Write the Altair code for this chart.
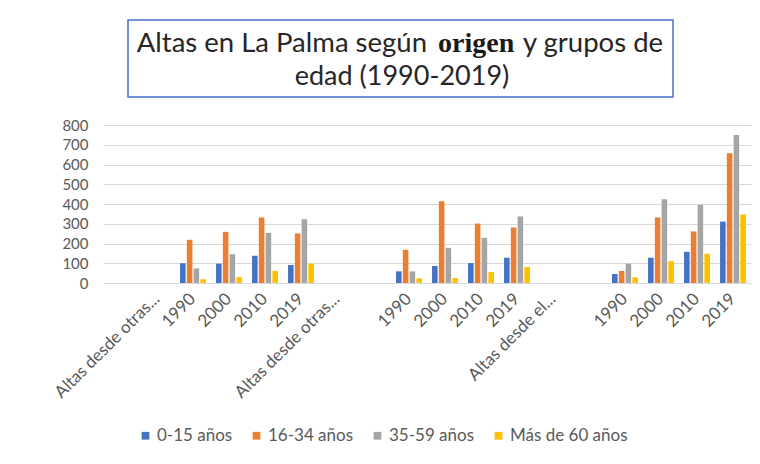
import altair as alt
import pandas as pd
import json

# Category slots along the x axis (18 slots, some empty)
slot_labels = ["", "Altas desde otras...", "1990", "2000", "2010", "2019",
               "Altas desde otras...", "", "1990", "2000", "2010", "2019",
               "Altas desde el...", "", "1990", "2000", "2010", "2019"]
data_slots = [2, 3, 4, 5, 8, 9, 10, 11, 14, 15, 16, 17]

series = ["0-15 años", "16-34 años", "35-59 años", "Más de 60 años"]
colors = ["#4472C4", "#ED7D31", "#A5A5A5", "#FFC000"]

v_0_15 = [100, 98, 138, 91, 59, 86, 101, 128, 45, 128, 158, 311]
v_16_34 = [219, 259, 332, 251, 168, 414, 301, 281, 61, 332, 261, 657]
v_35_59 = [74, 146, 254, 323, 59, 178, 229, 337, 98, 424, 396, 749]
v_60 = [19, 30, 61, 98, 24, 25, 56, 81, 29, 111, 148, 347]

rows = []
for s, vals in zip(series, [v_0_15, v_16_34, v_35_59, v_60]):
    for slot, v in zip(data_slots, vals):
        rows.append({"slot": slot, "serie": s, "valor": v})
df = pd.DataFrame(rows)

FONT = "Lato"
W, H = 648, 158

label_expr = json.dumps(slot_labels, ensure_ascii=False) + "[datum.value]"

bars = alt.Chart(df).mark_bar().encode(
    x=alt.X("slot:O",
            scale=alt.Scale(domain=list(range(len(slot_labels))), paddingInner=0.28, paddingOuter=0.14),
            axis=alt.Axis(title=None, labelExpr=label_expr, labelAngle=315, labelAlign="right",
                          labelBaseline="middle", labelFontSize=17, labelColor="#595959",
                          labelFont=FONT, ticks=False, domain=False, labelPadding=13,
                          labelOverlap=False, labelLimit=200)),
    xOffset=alt.XOffset("serie:N", sort=series,
                        scale=alt.Scale(domain=series, paddingInner=0.18)),
    y=alt.Y("valor:Q",
            scale=alt.Scale(domain=[0, 800], nice=False),
            axis=alt.Axis(title=None, values=list(range(0, 801, 100)), grid=True,
                          gridColor="#D9D9D9", gridWidth=1, domain=False, ticks=False,
                          labelPadding=15, labelFontSize=15, labelColor="#595959",
                          labelFont=FONT)),
    color=alt.Color("serie:N", sort=series,
                    scale=alt.Scale(domain=series, range=colors),
                    legend=alt.Legend(title=None, orient="none", direction="horizontal",
                                      legendX=34, legendY=302, symbolType="square",
                                      symbolSize=60, symbolStrokeWidth=0,
                                      labelFontSize=17, labelFont=FONT, labelColor="#595959",
                                      labelOffset=3, columnPadding=15)),
)

top_line = alt.Chart(pd.DataFrame({"k": [0]})).mark_rule(color="#D9D9D9", strokeWidth=1).encode(
    x=alt.value(-95), x2=alt.value(W + 1), y=alt.value(-124)
)

title_box = alt.Chart(pd.DataFrame({"k": [0]})).mark_rect(
    fill="white", fillOpacity=0, stroke="#4472C4", strokeWidth=1.5
).encode(x=alt.value(25), x2=alt.value(570), y=alt.value(-105), y2=alt.value(-28))

t1 = alt.Chart(pd.DataFrame({"t": ["Altas en La Palma según"]})).mark_text(
    align="right", baseline="alphabetic", font=FONT, fontSize=27.5, color="#262626"
).encode(x=alt.value(324), y=alt.value(-73), text="t:N")

t2 = alt.Chart(pd.DataFrame({"t": ["origen"]})).mark_text(
    align="left", baseline="alphabetic", font="Liberation Serif", fontSize=28,
    fontWeight="bold", color="#1a1a1a"
).encode(x=alt.value(335), y=alt.value(-73), text="t:N")

t3 = alt.Chart(pd.DataFrame({"t": ["y grupos de"]})).mark_text(
    align="left", baseline="alphabetic", font=FONT, fontSize=27.5, color="#262626"
).encode(x=alt.value(420), y=alt.value(-73), text="t:N")

t4 = alt.Chart(pd.DataFrame({"t": ["edad (1990-2019)"]})).mark_text(
    align="center", baseline="alphabetic", font=FONT, fontSize=27, color="#262626"
).encode(x=alt.value(299), y=alt.value(-40), text="t:N")

chart = alt.layer(bars, top_line, title_box, t1, t2, t3, t4).properties(
    width=W, height=H,
    padding={"left": 95, "top": 117, "right": 1, "bottom": 173},
    autosize=alt.AutoSizeParams(type="none"),
    background="white",
).configure_view(stroke=None)

chart.save("out.html", embed_options={"renderer": "svg", "actions": False})
